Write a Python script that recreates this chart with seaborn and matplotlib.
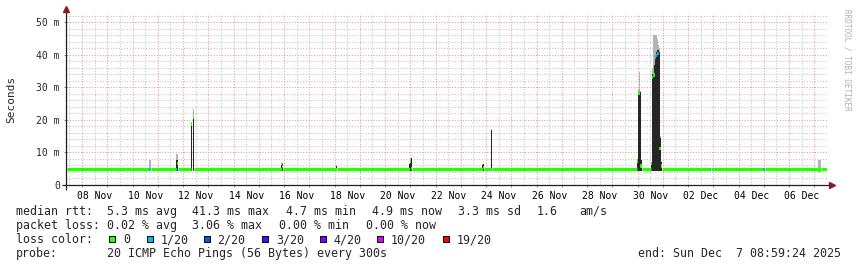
import numpy as np
import pandas as pd
import matplotlib
matplotlib.use("Agg")
import matplotlib.pyplot as plt
from matplotlib.patches import Rectangle
import seaborn as sns

nan = np.nan

# ---------------- data ----------------
# time axis in days since 2025-11-01 00:00
view_start = 6.402
view_end = 36.501
y_max = 52.53
baseline_median = 4.8          # ms, the flat median line

# individual columns (about 1 h each) that differ from the flat baseline
col_day = [9.650, 9.689, 10.719, 10.758, 11.313, 11.352, 11.392,
           14.877, 14.917, 17.055, 19.947, 19.986, 20.026, 22.838, 22.877,
           23.194, 28.976, 29.016, 29.055, 29.095, 29.135,
           29.531, 29.570, 29.610, 29.650, 29.689, 29.729, 29.768, 29.808,
           29.848, 29.887, 29.927, 31.867, 33.966, 34.006, 36.144, 36.184, 36.224]
col_median = [4.8, 4.8, 4.8, 6.6, 18.7, nan, 20.8,
              4.8, 5.6, 4.8, 4.8, 7.3, 5.0, 4.8, 5.4,
              4.8, 7.4, 28.3, 28.3, 5.8, 5.8,
              6.5, 33.0, 33.8, 33.8, 39.3, 39.8, 40.3, 40.3,
              11.3, 11.3, 5.8, 4.8, 4.8, 4.8, 4.6, 4.6, 4.6]
col_loss = [1, 1, 1, 0, 0, 0, 0,
            0, 0, 0, 0, 0, 0, 0, 0,
            1, 0, 0, 0, 0, 0,
            0, 0, 0, 0, 1, 1, 1, 1,
            0, 0, 0, 1, 1, 1, 0, 0, 0]
col_dark_top = [nan, nan, 7.6, 7.6, 19.2, nan, 21.3,
                6.0, 6.5, 5.8, 6.6, 7.6, 8.3, 6.0, 6.4,
                16.9, 8.0, 28.6, 28.8, 28.6, 7.7,
                7.0, 34.0, 34.5, 37.0, 40.0, 41.0, 41.5, 41.5,
                41.0, 14.4, 7.0, nan, nan, nan, nan, nan, nan]
col_light_top = [7.7, 7.7, 9.4, 9.4, 19.2, nan, 23.3,
                 6.9, 6.9, 6.2, 6.6, 8.4, 8.4, 6.4, 6.6,
                 17.2, 8.0, 29.5, 34.8, 29.0, 7.7,
                 7.0, 36.0, 46.0, 46.0, 46.0, 46.0, 45.0, 43.0,
                 42.0, 15.0, 7.0, nan, nan, nan, 7.7, 7.7, 7.7]
smoke_bottom = 4.4

x_labels = ["08 Nov", "10 Nov", "12 Nov", "14 Nov", "16 Nov", "18 Nov", "20 Nov",
            "22 Nov", "24 Nov", "26 Nov", "28 Nov", "30 Nov", "02 Dec", "04 Dec", "06 Dec"]
y_ticks = [0, 10, 20, 30, 40, 50]
y_labels = ["0", "10 m", "20 m", "30 m", "40 m", "50 m"]

loss_labels = ["0", "1/20", "2/20", "3/20", "4/20", "10/20", "19/20"]
loss_colors = ["#26ff00", "#00b8ff", "#0059ff", "#5e00ff", "#7e00ff", "#dd00ff", "#ff0000"]

legend_rows = [
    [("median rtt:", 16), ("5.3 ms avg", 107), ("41.3 ms max", 192.3), ("4.7 ms min", 286),
     ("4.9 ms now", 372.5), ("3.3 ms sd", 458), ("1.6", 536.5), ("am/s", 579)],
    [("packet loss:", 16), ("0.02 % avg", 107), ("3.06 % max", 192.3), ("0.00 % min", 279),
     ("0.00 % now", 365.5)],
]
probe_text = "20 ICMP Echo Pings (56 Bytes) every 300s"
end_text = "end: Sun Dec  7 08:59:24 2025"

# ---------------- figure ----------------
W, H = 857, 267
sns.set_theme(style="white")
plt.rcParams["font.family"] = ["DejaVu Sans Mono"]
plt.rcParams["axes.facecolor"] = "white"
plt.rcParams["figure.facecolor"] = "white"

fig = plt.figure(figsize=(W / 100, H / 100), dpi=100)
ax = fig.add_axes([67 / W, (H - 185) / H, 760 / W, 171 / H])
ax.set_xlim(view_start, view_end)
ax.set_ylim(0, y_max)
for s in ax.spines.values():
    s.set_visible(False)

col_w = (view_end - view_start) / 760.0

# grid (dotted, under the data)
minor_c, major_c = "#c4c4c4", "#e99a9a"
gkw = dict(lw=0.75, linestyle=(0, (1, 1.6)), zorder=0.5)
for h in np.arange(np.ceil(view_start * 2) / 2, view_end, 0.5):
    if abs(h - round(h)) > 1e-6:
        ax.axvline(h, color=minor_c, **gkw)
for v in np.arange(2, y_max, 2):
    if v % 10:
        ax.axhline(v, color=minor_c, **gkw)
midnights = np.arange(np.ceil(view_start), view_end)
for d in midnights:
    ax.axvline(d, color=major_c, **gkw)
for v in y_ticks[1:]:
    ax.axhline(v, color=major_c, **gkw)

# smoke
df = pd.DataFrame(dict(day=col_day, med=col_median, loss=col_loss,
                       dark=col_dark_top, light=col_light_top))
for r in df.itertuples():
    lo = smoke_bottom
    if not np.isnan(r.dark):
        ax.bar(r.day, r.dark - lo, bottom=lo, width=col_w, align="edge",
               color="#262626", lw=0, zorder=2, antialiased=False)
        lo = r.dark
    if not np.isnan(r.light) and r.light > lo:
        ax.bar(r.day, r.light - lo, bottom=lo, width=col_w, align="edge",
               color="#b4b4b4", lw=0, zorder=2, antialiased=False)

# flat median band (seaborn), broken at the special columns
segs = []
cur = view_start
for d in sorted(col_day):
    if d > cur + 1e-9:
        segs.append((cur, d))
    cur = max(cur, d + col_w)
if cur < view_end:
    segs.append((cur, view_end))
band = pd.DataFrame([(a, baseline_median, i) for i, (a, b) in enumerate(segs)] +
                    [(b, baseline_median, i) for i, (a, b) in enumerate(segs)],
                    columns=["day", "ms", "seg"])
sns.lineplot(data=band, x="day", y="ms", units="seg", estimator=None,
             color=loss_colors[0], linewidth=3.3 * 0.72, solid_capstyle="butt",
             legend=False, ax=ax, zorder=3)

# median markers on the special columns
for r in df.itertuples():
    if not np.isnan(r.med):
        ax.bar(r.day, 1.0, bottom=r.med - 0.5, width=col_w, align="edge",
               color=loss_colors[r.loss], lw=0, zorder=4, antialiased=False)

ax.set_xlabel("")
ax.set_ylabel("")

# ticks and labels
base = pd.Timestamp("2025-11-01")
label_pos = [((pd.Timestamp(l + " 2025") - base).days + 0.5) for l in x_labels]
ax.set_xticks(label_pos)
ax.set_xticklabels(x_labels, fontsize=7)
ax.set_xticks(midnights, minor=True)
ax.tick_params(axis="x", which="major", length=0, pad=4.3, colors="black")
ax.tick_params(axis="x", which="minor", length=1.6, width=0.72, color="#888888",
               direction="out", bottom=True)
ax.set_yticks(y_ticks)
ax.set_yticklabels(y_labels, fontsize=7)
ax.tick_params(axis="y", which="major", length=2.2, width=0.72, color="#888888",
               pad=2.9, direction="out", left=True)

# axes with arrows
axis_c = "#1f1f1f"
ax.plot([-5 / 760, 763 / 760], [0, 0], transform=ax.transAxes, color=axis_c,
        lw=0.9, clip_on=False, zorder=5, solid_capstyle="butt")
ax.plot([-1 / 760, -1 / 760], [-5 / 171, 175 / 171], transform=ax.transAxes,
        color=axis_c, lw=0.9, clip_on=False, zorder=5, solid_capstyle="butt")
ax.plot([765 / 760], [0], marker=">", ms=4.2, color="#801f1f", mec="#801f1f",
        transform=ax.transAxes, clip_on=False, zorder=6)
ax.plot([-1 / 760], [176 / 171], marker="^", ms=4.2, color="#801f1f", mec="#801f1f",
        transform=ax.transAxes, clip_on=False, zorder=6)

# vertical label and watermark
fig.text(11 / W, 1 - 99.5 / H, "Seconds", rotation=90, fontsize=8,
         ha="center", va="center")
fig.text(847 / W, 1 - 60 / H, "RRDTOOL / TOBI OETIKER", rotation=270, fontsize=5.5,
         color="#b0b0b0", ha="center", va="center")

# legend block
fs = 8.35
baselines = [215, 229.3, 243.3, 257.3]
for row, yb in zip(legend_rows, baselines):
    for txt, xp in row:
        fig.text(xp / W, 1 - yb / H, txt, fontsize=fs, va="baseline", ha="left")

fig.text(16 / W, 1 - baselines[2] / H, "loss color:", fontsize=fs, va="baseline")
sq_x = [108.7, 146.0, 203.3, 261.7, 319.0, 376.7, 442.3]
for xs, lab, c in zip(sq_x, loss_labels, loss_colors):
    fig.patches.append(Rectangle(((xs + 0.5) / W, 1 - 241.8 / H), 6 / W, 6 / H,
                                 transform=fig.transFigure, facecolor=c,
                                 edgecolor="black", lw=0.72, figure=fig))
    fig.text((xs + 14.3) / W, 1 - baselines[2] / H, lab, fontsize=fs, va="baseline")

fig.text(16 / W, 1 - baselines[3] / H, "probe:", fontsize=fs, va="baseline")
fig.text(107.3 / W, 1 - baselines[3] / H, probe_text, fontsize=fs, va="baseline")
fig.text(840.5 / W, 1 - baselines[3] / H, end_text, fontsize=fs, va="baseline", ha="right")

fig.savefig("out.png", dpi=100, facecolor="white")
